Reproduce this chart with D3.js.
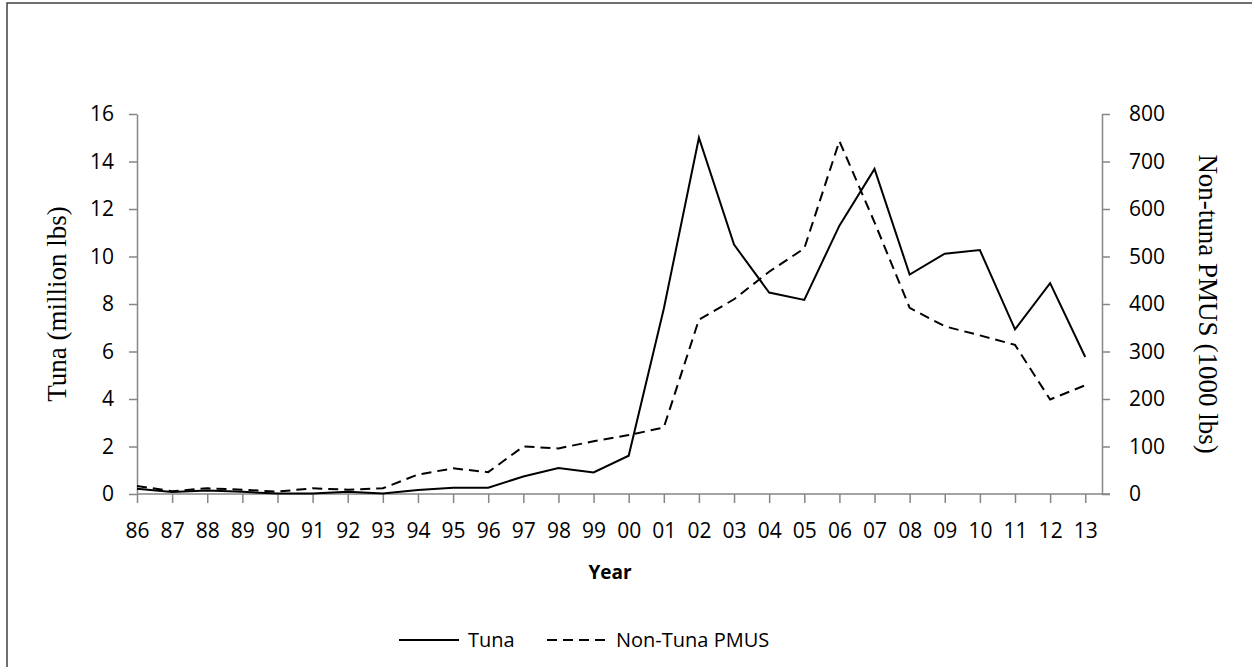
<!DOCTYPE html>
<html>
<head>
<meta charset="utf-8">
<script src="https://cdn.jsdelivr.net/npm/d3@7"></script>
<style>
  body { margin: 0; background: #fff; }
  svg { display: block; }
  .tick text { font-family: "Open Sans", sans-serif; font-size: 21px; fill: #000; }
  .axis path, .axis line { stroke: #868686; stroke-width: 1.5; }
</style>
</head>
<body>
<div id="chart"></div>
<script>
var years = ["86", "87", "88", "89", "90", "91", "92", "93", "94", "95", "96", "97", "98", "99",
  "00", "01", "02", "03", "04", "05", "06", "07", "08", "09", "10", "11", "12", "13"];

// million lbs
var tuna = [0.22, 0.08, 0.15, 0.09, 0.02, 0.02, 0.09, 0.02, 0.17, 0.26, 0.26, 0.74, 1.09, 0.91,
  1.61, 7.8, 15.0, 10.5, 8.48, 8.17, 11.3, 13.69, 9.24, 10.12, 10.27, 6.93, 8.88, 5.77];

// 1000 lbs
var nonTuna = [17, 6, 12, 9, 5, 12, 9, 12, 41, 54, 46, 100, 96, 111,
  124, 140, 367, 410, 468, 517, 743, 572, 392, 353, 334, 314, 199, 229];

var leftTicks = [0, 2, 4, 6, 8, 10, 12, 14, 16];
var rightTicks = [0, 100, 200, 300, 400, 500, 600, 700, 800];

var svgWidth = 1252;
var svgHeight = 667;

var plot = { left: 137, right: 1102, top: 114, bottom: 494 };
var step = 35.12;

var svg = d3
  .select("#chart")
  .append("svg")
  .attr("width", svgWidth)
  .attr("height", svgHeight);

// outer frame
svg
  .append("rect")
  .attr("x", 7)
  .attr("y", 3)
  .attr("width", svgWidth + 10)
  .attr("height", svgHeight + 10)
  .attr("fill", "none")
  .attr("stroke", "#404040")
  .attr("stroke-width", 1.5);

var xScale = d3
  .scalePoint()
  .domain(years)
  .range([plot.left, plot.left + step * (years.length - 1)]);

var yLeft = d3.scaleLinear().domain([0, 16]).range([plot.bottom, plot.top]);
var yRight = d3.scaleLinear().domain([0, 800]).range([plot.bottom, plot.top]);

// x axis
var xAxis = svg
  .append("g")
  .attr("class", "axis")
  .attr("transform", `translate(0, ${plot.bottom})`)
  .call(d3.axisBottom(xScale).tickSizeInner(9).tickSizeOuter(0).tickPadding(20));
xAxis.select(".domain").remove();
xAxis
  .append("line")
  .attr("x1", plot.left)
  .attr("x2", plot.right + 8)
  .attr("stroke", "#868686")
  .attr("stroke-width", 1.5);

// left axis
svg
  .append("g")
  .attr("class", "axis")
  .attr("transform", `translate(${plot.left}, 0)`)
  .call(d3.axisLeft(yLeft).tickValues(leftTicks).tickSizeInner(8).tickSizeOuter(0).tickPadding(15));

// right axis
svg
  .append("g")
  .attr("class", "axis")
  .attr("transform", `translate(${plot.right}, 0)`)
  .call(d3.axisRight(yRight).tickValues(rightTicks).tickSizeInner(8).tickSizeOuter(0).tickPadding(19));

var tunaLine = d3
  .line()
  .x((d, i) => xScale(years[i]))
  .y(d => yLeft(d));

var nonTunaLine = d3
  .line()
  .x((d, i) => xScale(years[i]))
  .y(d => yRight(d));

svg
  .append("path")
  .datum(nonTuna)
  .attr("d", nonTunaLine)
  .attr("fill", "none")
  .attr("stroke", "#000")
  .attr("stroke-width", 2)
  .attr("stroke-dasharray", "10,6");

svg
  .append("path")
  .datum(tuna)
  .attr("d", tunaLine)
  .attr("fill", "none")
  .attr("stroke", "#000")
  .attr("stroke-width", 2);

// axis titles
svg
  .append("text")
  .attr("transform", `translate(66, ${(plot.top + plot.bottom) / 2}) rotate(-90)`)
  .attr("text-anchor", "middle")
  .style("font-family", "'Liberation Serif', serif")
  .style("font-size", "27px")
  .text("Tuna (million lbs)");

svg
  .append("text")
  .attr("transform", `translate(1199, ${(plot.top + plot.bottom) / 2}) rotate(90)`)
  .attr("text-anchor", "middle")
  .style("font-family", "'Liberation Serif', serif")
  .style("font-size", "27px")
  .text("Non-tuna PMUS (1000 lbs)");

svg
  .append("text")
  .attr("x", 610)
  .attr("y", 579)
  .attr("text-anchor", "middle")
  .style("font-family", "'Open Sans', sans-serif")
  .style("font-size", "19px")
  .style("font-weight", "bold")
  .text("Year");

// legend
var legend = svg.append("g").attr("transform", "translate(0, 640)");
var legendItems = [
  { name: "Tuna", dash: null, x: 399 },
  { name: "Non-Tuna PMUS", dash: "10,6", x: 547 }
];
legendItems.forEach(function(item) {
  legend
    .append("line")
    .attr("x1", item.x)
    .attr("x2", item.x + 60)
    .attr("stroke", "#000")
    .attr("stroke-width", 2)
    .attr("stroke-dasharray", item.dash);
  legend
    .append("text")
    .attr("x", item.x + 69)
    .attr("y", 7)
    .style("font-family", "'Open Sans', sans-serif")
    .style("font-size", "20px")
    .text(item.name);
});
</script>
</body>
</html>
